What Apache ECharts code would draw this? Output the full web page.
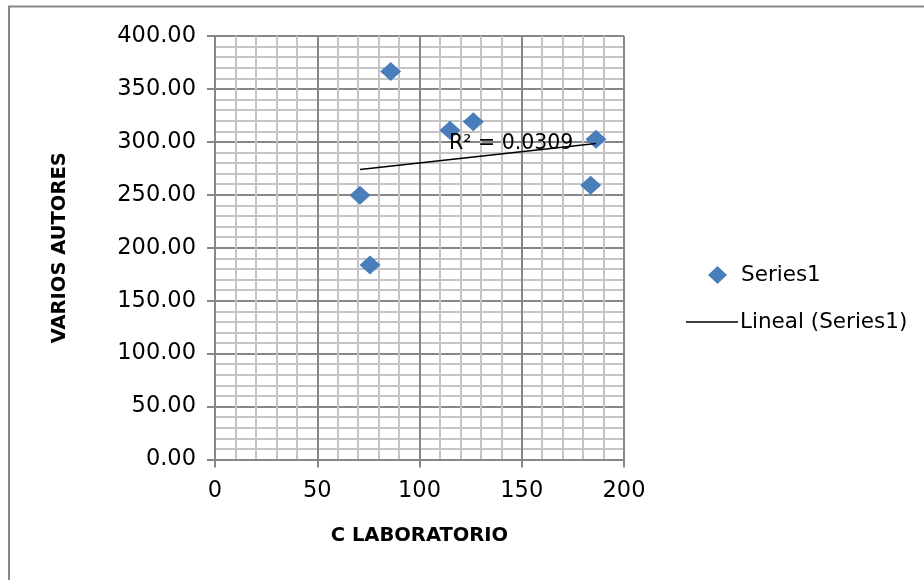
<!DOCTYPE html>
<html>
<head>
<meta charset="utf-8">
<script src="https://cdn.jsdelivr.net/npm/echarts@6/dist/echarts.min.js"></script>
<style>
html,body{margin:0;padding:0;background:#fff;}
#chart{width:924px;height:580px;}
</style>
</head>
<body>
<div id="chart"></div>
<script>
// Data
const labX = [85.9, 114.9, 126.3, 186.3, 183.7, 70.9, 75.8];   // C LABORATORIO
const autY = [366.5, 311.0, 319.0, 302.4, 259.0, 249.7, 183.8]; // VARIOS AUTORES
const seriesName = 'Series1';
const trendName = 'Lineal (Series1)';
const r2Text = 'R² = 0.0309';
const xTitle = 'C LABORATORIO';
const yTitle = 'VARIOS AUTORES';

// Linear (least squares) trendline over the data range
const n = labX.length;
const mx = labX.reduce((a, b) => a + b, 0) / n;
const my = autY.reduce((a, b) => a + b, 0) / n;
let sxy = 0, sxx = 0;
for (let i = 0; i < n; i++) { sxy += (labX[i] - mx) * (autY[i] - my); sxx += (labX[i] - mx) ** 2; }
const slope = sxy / sxx, icpt = my - slope * mx;
const xMin = Math.min(...labX), xMax = Math.max(...labX);
const trend = [[xMin, icpt + slope * xMin], [xMax, icpt + slope * xMax]];

const FONT = 'DejaVu Sans';
const majorColor = '#878787';
const minorColor = '#c4c4c4';

const chart = echarts.init(document.getElementById('chart'), null, { renderer: 'canvas' });
chart.setOption({
  animation: false,
  backgroundColor: '#ffffff',
  textStyle: { fontFamily: FONT },
  grid: { left: 215, right: 300, top: 36, bottom: 120.5, containLabel: false },
  xAxis: {
    type: 'value', min: 0, max: 200, interval: 50,
    name: xTitle, nameLocation: 'middle', nameGap: 66,
    nameTextStyle: { fontFamily: FONT, fontWeight: 'bold', fontSize: 19.5, color: '#000' },
    axisLine: { show: true, onZero: false, lineStyle: { color: majorColor, width: 2 } },
    axisTick: { show: true, length: 8, lineStyle: { color: majorColor, width: 2 } },
    axisLabel: { fontFamily: FONT, fontSize: 22.5, color: '#000', margin: 20 },
    splitLine: { show: true, lineStyle: { color: majorColor, width: 2 } },
    minorTick: { show: false, splitNumber: 5 },
    minorSplitLine: { show: true, lineStyle: { color: minorColor, width: 2 } }
  },
  yAxis: {
    type: 'value', min: 0, max: 400, interval: 50,
    name: yTitle, nameLocation: 'middle', nameGap: 145, nameRotate: 90,
    nameTextStyle: { fontFamily: FONT, fontWeight: 'bold', fontSize: 19.5, color: '#000' },
    axisLine: { show: true, onZero: false, lineStyle: { color: majorColor, width: 2 } },
    axisTick: { show: true, length: 8, lineStyle: { color: majorColor, width: 2 } },
    axisLabel: { fontFamily: FONT, fontSize: 22.5, color: '#000', margin: 19,
      formatter: v => v.toFixed(2) },
    splitLine: { show: true, lineStyle: { color: majorColor, width: 2 } },
    minorTick: { show: false, splitNumber: 5 },
    minorSplitLine: { show: true, lineStyle: { color: minorColor, width: 2 } }
  },
  legend: [
    {
      data: [seriesName], orient: 'vertical', left: 703, top: 259,
      icon: 'diamond', itemWidth: 19, itemHeight: 18, itemGap: 10,
      itemStyle: { color: '#4a7ebb', opacity: 1 },
      textStyle: { fontFamily: FONT, fontSize: 21.5, color: '#000', padding: [0, 0, 0, 9] },
      selectedMode: false
    },
    {
      data: [trendName], orient: 'vertical', left: 681, top: 306,
      icon: 'rect', itemWidth: 52, itemHeight: 1.5, itemGap: 10,
      textStyle: { fontFamily: FONT, fontSize: 21.5, color: '#000', padding: [0, 0, 0, -3] },
      selectedMode: false
    }
  ],
  series: [
    {
      name: seriesName, type: 'scatter', symbol: 'diamond', symbolSize: [21, 19],
      itemStyle: { color: '#4a7ebb', opacity: 1 },
      data: labX.map((x, i) => [x, autY[i]]), z: 3
    },
    {
      name: trendName, type: 'line', symbol: 'none', showSymbol: false,
      itemStyle: { color: '#000' },
      lineStyle: { color: '#000', width: 1.5 },
      data: trend, z: 4
    }
  ],
  graphic: [
    { type: 'rect', shape: { x: 9, y: 6.5, width: 1000, height: 1000 },
      style: { fill: 'none', stroke: '#878787', lineWidth: 2 }, silent: true },
    { type: 'text', left: 449, top: 133, z: 10,
      style: { text: r2Text, fontFamily: FONT, fontSize: 20.5, fill: '#000' } }
  ]
});
</script>
</body>
</html>
